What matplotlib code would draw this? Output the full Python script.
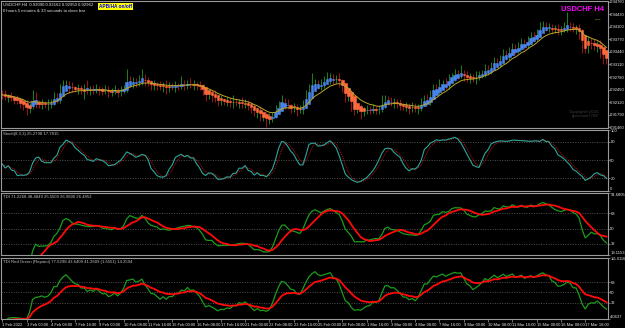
#!/usr/bin/env python3
"""USDCHF H4 MetaTrader-style chart with Stoch and two TDI panes."""

import matplotlib

matplotlib.use("Agg")

import matplotlib.pyplot as plt
import numpy as np
import pandas as pd


COLORS = {
    "bg": "#000000",
    "frame": "#9a9a9a",
    "text": "#e8e8e8",
    "muted": "#c0c0c0",
    "level": "#6a6a6a",
    "body_up": "#4a84e8",
    "body_dn": "#ff6a3d",
    "wick_up": "#1f9a1f",
    "wick_dn": "#b81818",
    "ma": "#b8a82a",
    "stoch": "#2aa89c",
    "signal": "#c01010",
    "tdi_green": "#1c9c1c",
    "tdi_red": "#ff0a0a",
    "magenta": "#ff00ff",
}

plt.rcParams["font.family"] = ["Liberation Sans Narrow", "Liberation Sans", "DejaVu Sans"]

# H4 closes, 1 Feb 2022 16:00 -> 18 Mar 2022
FIRST_OPEN = 0.9236
CLOSES = [
    0.9231, 0.9226, 0.9228, 0.9221, 0.9218, 0.9215, 0.9210, 0.9205, 0.9194, 0.9202,
    0.9223, 0.9210, 0.9208, 0.9210, 0.9205, 0.9208, 0.9213, 0.9226, 0.9221, 0.9249,
    0.9255, 0.9260, 0.9252, 0.9249, 0.9247, 0.9249, 0.9244, 0.9247, 0.9242, 0.9247,
    0.9244, 0.9249, 0.9244, 0.9242, 0.9244, 0.9239, 0.9242, 0.9244, 0.9239, 0.9244,
    0.9249, 0.9270, 0.9265, 0.9268, 0.9263, 0.9270, 0.9276, 0.9265, 0.9263, 0.9257,
    0.9260, 0.9255, 0.9252, 0.9257, 0.9249, 0.9255, 0.9252, 0.9257, 0.9255, 0.9260,
    0.9257, 0.9263, 0.9257, 0.9260, 0.9255, 0.9252, 0.9242, 0.9231, 0.9236, 0.9228,
    0.9221, 0.9215, 0.9218, 0.9213, 0.9215, 0.9210, 0.9213, 0.9210, 0.9213, 0.9208,
    0.9210, 0.9202, 0.9197, 0.9187, 0.9191, 0.9174, 0.9176, 0.9168, 0.9171, 0.9179,
    0.9192, 0.9205, 0.9215, 0.9208, 0.9202, 0.9197, 0.9200, 0.9192, 0.9194, 0.9208,
    0.9228, 0.9249, 0.9257, 0.9263, 0.9255, 0.9260, 0.9270, 0.9273, 0.9278, 0.9270,
    0.9273, 0.9265, 0.9249, 0.9228, 0.9232, 0.9200, 0.9192, 0.9197, 0.9187, 0.9192,
    0.9194, 0.9192, 0.9197, 0.9192, 0.9194, 0.9208, 0.9221, 0.9215, 0.9210, 0.9213,
    0.9208, 0.9205, 0.9200, 0.9202, 0.9197, 0.9200, 0.9194, 0.9200, 0.9210, 0.9221,
    0.9216, 0.9235, 0.9249, 0.9244, 0.9257, 0.9263, 0.9258, 0.9276, 0.9281, 0.9286,
    0.9284, 0.9289, 0.9281, 0.9276, 0.9278, 0.9273, 0.9281, 0.9284, 0.9289, 0.9299,
    0.9294, 0.9310, 0.9318, 0.9312, 0.9328, 0.9338, 0.9332, 0.9349, 0.9355, 0.9348,
    0.9362, 0.9368, 0.9361, 0.9378, 0.9385, 0.9380, 0.9396, 0.9406, 0.9412, 0.9407,
    0.9409, 0.9401, 0.9404, 0.9399, 0.9404, 0.9407, 0.9412, 0.9409, 0.9404, 0.9407,
    0.9393, 0.9360, 0.9352, 0.9370, 0.9365, 0.9360, 0.9365, 0.9346, 0.9333, 0.9325,
]
# wick length beyond the body, in pips
WICK_UP = [
    8, 12, 6, 10, 8, 14, 6, 10, 12, 8, 20, 16, 8, 10, 6, 12, 8, 14, 10, 12,
    16, 10, 8, 12, 6, 10, 8, 12, 24, 8, 10, 12, 6, 8, 14, 10, 8, 12, 6, 10,
    8, 28, 12, 10, 8, 14, 24, 10, 12, 8, 10, 6, 12, 8, 14, 10, 8, 12, 6, 20,
    10, 8, 12, 10, 6, 14, 8, 10, 12, 8, 16, 8, 12, 6, 10, 8, 18, 10, 8, 12,
    10, 8, 12, 10, 6, 12, 8, 10, 12, 8, 14, 10, 16, 8, 12, 6, 10, 8, 12, 10,
    16, 12, 32, 10, 8, 14, 10, 18, 12, 8, 10, 16, 8, 12, 6, 10, 8, 12, 10, 8,
    12, 8, 10, 6, 12, 24, 10, 8, 12, 10, 8, 12, 6, 10, 8, 12, 10, 8, 12, 10,
    14, 8, 12, 10, 16, 8, 12, 10, 8, 12, 10, 20, 8, 12, 10, 8, 12, 10, 8, 12,
    10, 8, 12, 10, 8, 14, 10, 8, 12, 10, 8, 12, 10, 8, 12, 10, 8, 16, 12, 10,
    12, 8, 10, 12, 8, 16, 37, 10, 12, 8, 10, 12, 8, 16, 10, 12, 8, 10, 12, 8,
]
WICK_DN = [
    10, 8, 12, 6, 10, 8, 12, 14, 16, 10, 8, 12, 10, 14, 8, 12, 10, 8, 12, 10,
    8, 12, 16, 10, 8, 12, 10, 24, 8, 12, 10, 8, 12, 10, 8, 14, 10, 8, 12, 10,
    8, 10, 12, 16, 10, 8, 12, 10, 8, 12, 14, 10, 8, 12, 16, 10, 8, 12, 10, 8,
    12, 10, 8, 12, 10, 8, 12, 16, 10, 14, 8, 12, 10, 8, 12, 10, 14, 8, 12, 10,
    12, 10, 14, 12, 16, 10, 12, 20, 14, 10, 8, 12, 10, 14, 8, 12, 10, 16, 8, 12,
    10, 8, 12, 10, 8, 12, 10, 8, 12, 10, 8, 12, 10, 16, 12, 10, 14, 8, 18, 10,
    12, 10, 8, 12, 10, 8, 12, 10, 8, 12, 10, 14, 8, 12, 16, 10, 8, 12, 10, 8,
    12, 10, 8, 12, 10, 8, 12, 10, 8, 12, 10, 8, 12, 10, 14, 8, 12, 10, 8, 12,
    10, 8, 12, 10, 8, 12, 10, 8, 12, 10, 8, 12, 10, 8, 12, 10, 8, 12, 10, 8,
    12, 10, 8, 12, 10, 8, 12, 10, 8, 12, 16, 20, 12, 10, 14, 12, 16, 18, 20, 12,
]

PRICE_TICKS = [0.94760, 0.94430, 0.94100, 0.93770, 0.93440, 0.93110,
               0.92780, 0.92450, 0.92120, 0.91790, 0.91460]
PRICE_LIM = (0.91446, 0.94787)

DATE_LABELS = [
    "1 Feb 2022", "3 Feb 00:00", "4 Feb 08:00", "7 Feb 16:00", "9 Feb 00:00",
    "10 Feb 08:00", "11 Feb 16:00", "15 Feb 00:00", "16 Feb 08:00", "17 Feb 16:00",
    "21 Feb 00:00", "22 Feb 08:00", "23 Feb 16:00", "25 Feb 00:00", "28 Feb 08:00",
    "1 Mar 16:00", "3 Mar 00:00", "4 Mar 08:00", "7 Mar 16:00", "9 Mar 00:00",
    "10 Mar 08:00", "11 Mar 16:00", "15 Mar 00:00", "16 Mar 08:00", "17 Mar 16:00",
]
DATE_STEP = 8

STOCH_LEVELS = [80, 50, 20]
TDI_LEVELS = [68, 50, 32]
TDI_LIM = (19.1153, 91.6805)
TDI2_LIM = (4.0637, 111.0116)

W, H = 625, 328
FS = 3.0


def fig_rect(top_px, bottom_px):
    left, right = 1, 608
    return [left / W, 1 - bottom_px / H, (right - left) / W, (bottom_px - top_px) / H]


def style_pane(ax):
    ax.set_facecolor(COLORS["bg"])
    for sp in ax.spines.values():
        sp.set_color(COLORS["frame"])
        sp.set_linewidth(0.8)
    ax.yaxis.tick_right()
    ax.tick_params(axis="y", colors=COLORS["frame"], labelcolor=COLORS["text"],
                   labelsize=FS, length=1.2, width=0.5, pad=0.5)
    ax.tick_params(axis="x", bottom=False, labelbottom=False)
    ax.set_xlim(-0.4, 199.5)


def edge_labels(ax):
    labels = ax.get_yticklabels()
    labels[0].set_va("bottom")
    labels[-1].set_va("top")


def rsi(series, period):
    delta = series.diff()
    gain = delta.clip(lower=0).ewm(alpha=1 / period, adjust=False).mean()
    loss = (-delta.clip(upper=0)).ewm(alpha=1 / period, adjust=False).mean()
    return 100 - 100 / (1 + gain / loss.replace(0, np.nan))


def main():
    close = np.array(CLOSES)
    open_ = np.r_[FIRST_OPEN, close[:-1]]
    high = np.maximum(open_, close) + np.array(WICK_UP) * 1e-4
    low = np.minimum(open_, close) - np.array(WICK_DN) * 1e-4
    x = np.arange(len(close))

    ha_close = (open_ + high + low + close) / 4
    ha_open = np.empty_like(ha_close)
    ha_open[0] = (open_[0] + close[0]) / 2
    for i in range(1, len(close)):
        ha_open[i] = (ha_open[i - 1] + ha_close[i - 1]) / 2

    s_close = pd.Series(close)
    ma = s_close.ewm(span=10, adjust=False).mean()

    ll = pd.Series(low).rolling(8, min_periods=1).min()
    hh = pd.Series(high).rolling(8, min_periods=1).max()
    k = 100 * (s_close - ll).rolling(3, min_periods=1).sum() / (hh - ll).rolling(3, min_periods=1).sum()
    d = k.rolling(3, min_periods=1).mean()

    r13 = rsi(s_close, 13).bfill()
    tdi_green = r13.rolling(2, min_periods=1).mean()
    tdi_red = r13.rolling(7, min_periods=1).mean()

    r5 = rsi(s_close, 5).bfill()
    tdi2_green = r5.ewm(span=3, adjust=False).mean()
    tdi2_red = r5.ewm(span=12, adjust=False).mean()

    fig = plt.figure(figsize=(W / 100, H / 100), dpi=100)
    fig.patch.set_facecolor(COLORS["bg"])

    # ---- main price pane
    ax = fig.add_axes(fig_rect(0.5, 128))
    style_pane(ax)
    wick_cols = [COLORS["wick_up"] if c >= o else COLORS["wick_dn"] for o, c in zip(open_, close)]
    ax.vlines(x, low, high, colors=wick_cols, lw=0.6, zorder=2)
    body_cols = [COLORS["body_up"] if c >= o else COLORS["body_dn"] for o, c in zip(ha_open, ha_close)]
    ax.bar(x, np.abs(ha_close - ha_open), bottom=np.minimum(ha_open, ha_close), width=0.8,
           color=body_cols, edgecolor=body_cols, linewidth=0.4, zorder=3)
    ax.plot(x, ma, color=COLORS["ma"], lw=0.7, zorder=4)
    ax.set_ylim(*PRICE_LIM)
    ax.set_yticks(PRICE_TICKS, [f"{p:.5f}" for p in PRICE_TICKS])
    ax.text(0.004, 0.985, "USDCHF,H4  0.93090 0.93162 0.92950 0.92962", transform=ax.transAxes,
            fontsize=3.1, color=COLORS["text"], va="top")
    ax.text(0.004, 0.93, "0 hours 5 minutes & 33 seconds to close bar", transform=ax.transAxes,
            fontsize=3.1, color=COLORS["text"], va="top")
    ax.text(0.161, 0.972, "APB/HA on/off", transform=ax.transAxes, fontsize=3.4,
            color="#0000ff", fontweight="bold", va="top",
            bbox={"boxstyle": "square,pad=0.25", "facecolor": "#ffff00", "edgecolor": "none"})
    ax.text(0.993, 0.93, "USDCHF H4", transform=ax.transAxes, fontsize=5.4, color=COLORS["magenta"],
            fontweight="bold", ha="right", va="center", family=["Liberation Sans", "DejaVu Sans"])
    ax.text(0.988, 0.85, "\u2014", transform=ax.transAxes, fontsize=4, color=COLORS["ma"],
            ha="right", va="center")
    ax.text(0.985, 0.11, "Copyright\u00a92016\ngurusanti7788", transform=ax.transAxes,
            fontsize=3.1, color="#3c3c3c", ha="right", va="center", linespacing=1.0)

    # ---- stochastic pane
    ax_s = fig.add_axes(fig_rect(129.5, 190.5))
    style_pane(ax_s)
    for lv in STOCH_LEVELS:
        ax_s.axhline(lv, color=COLORS["level"], lw=0.5, ls=(0, (1.5, 2)))
    ax_s.plot(x, d, color=COLORS["signal"], lw=0.6, ls=(0, (1.5, 1.2)))
    ax_s.plot(x, k, color=COLORS["stoch"], lw=0.8)
    ax_s.set_ylim(0, 100)
    ax_s.set_yticks([0] + STOCH_LEVELS[::-1] + [100], ["0", "20", "50", "80", "100"])
    edge_labels(ax_s)
    ax_s.text(0.004, 0.96, "Stoch(8,3,3) 25.2798 17.7815", transform=ax_s.transAxes,
              fontsize=3.1, color=COLORS["muted"], va="top")

    # ---- TDI pane
    ax_t = fig.add_axes(fig_rect(193, 255))
    style_pane(ax_t)
    for lv in TDI_LEVELS:
        ax_t.axhline(lv, color=COLORS["level"], lw=0.5, ls=(0, (1.5, 2)))
    ax_t.plot(x, tdi_green, color=COLORS["tdi_green"], lw=0.9)
    ax_t.plot(x, tdi_red, color=COLORS["tdi_red"], lw=1.3)
    ax_t.set_ylim(*TDI_LIM)
    ax_t.set_yticks([TDI_LIM[0]] + TDI_LEVELS[::-1] + [TDI_LIM[1]],
                    [f"{TDI_LIM[0]:.4f}", "32", "50", "68", f"{TDI_LIM[1]:.4f}"])
    edge_labels(ax_t)
    ax_t.text(0.004, 0.96, "TDI 71.2268 48.4849 25.5509 26.9800 26.4852", transform=ax_t.transAxes,
              fontsize=3.1, color=COLORS["muted"], va="top")

    # ---- TDI red/green pane
    ax_r = fig.add_axes(fig_rect(257.5, 318.5))
    style_pane(ax_r)
    for lv in TDI_LEVELS:
        ax_r.axhline(lv, color=COLORS["level"], lw=0.5, ls=(0, (1.5, 2)))
    ax_r.plot(x, tdi2_green, color=COLORS["tdi_green"], lw=0.9)
    ax_r.plot(x, tdi2_red, color=COLORS["tdi_red"], lw=1.3)
    ax_r.set_ylim(*TDI2_LIM)
    ax_r.set_yticks([TDI2_LIM[0]] + TDI_LEVELS[::-1] + [TDI2_LIM[1]],
                    [f"{TDI2_LIM[0]:.4f}", "32", "50", "68", f"{TDI2_LIM[1]:.4f}"])
    edge_labels(ax_r)
    ax_r.get_yticklabels()[-1].set_fontsize(2.7)
    ax_r.text(0.004, 0.96, "TDI Red Green (Repaint) 77.6298 43.6409 41.2609 (1.6551) 14.2594",
              transform=ax_r.transAxes, fontsize=3.1, color=COLORS["muted"], va="top")

    ticks = np.arange(len(DATE_LABELS)) * DATE_STEP
    ax_r.set_xticks(ticks, DATE_LABELS)
    ax_r.tick_params(axis="x", bottom=True, labelbottom=True, colors=COLORS["frame"],
                     labelcolor=COLORS["text"], labelsize=2.9, length=2, width=0.5, pad=1.2)
    for lab in ax_r.get_xticklabels():
        lab.set_ha("left")

    fig.savefig("out.png", dpi=100, facecolor=COLORS["bg"])
    plt.close(fig)


if __name__ == "__main__":
    main()
